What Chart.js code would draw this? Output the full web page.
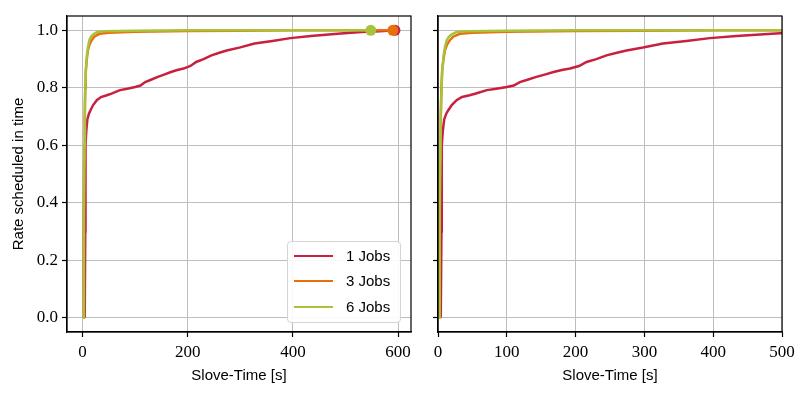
<!DOCTYPE html>
<html>
<head>
<meta charset="utf-8">
<script src="https://cdn.jsdelivr.net/npm/chart.js@4"></script>
<style>
  body { margin: 0; background: #fff; width: 806px; height: 395px; position: relative; overflow: hidden; }
  canvas { position: absolute; top: 0; }
  #left { left: 0; }
  #right { left: 420px; }
  .legend {
    position: absolute; left: 287px; top: 241px; width: 112px; height: 80px;
    border: 1px solid #d4d4d4; border-radius: 4px; background: rgba(255,255,255,0.9);
    font-family: "Liberation Sans", sans-serif; font-size: 15px; color: #000;
  }
  .legend .row { position: absolute; left: 0; height: 20px; }
  .legend .swatch { position: absolute; left: 6px; width: 39px; height: 2px; top: 9px; }
  .legend .label { position: absolute; left: 58px; top: 1px; white-space: nowrap; }
</style>
</head>
<body>
<canvas id="left" width="420" height="395"></canvas>
<canvas id="right" width="386" height="395"></canvas>
<div class="legend" id="legend"></div>
<script>
// 1 Jobs
const jobs1Time = [4, 5, 5.5, 7, 9, 12, 15, 20, 27, 35, 46, 55, 71, 85, 100, 110, 119, 130, 143, 155, 168, 180, 192, 205, 216, 230, 245, 260, 274, 298, 327, 361, 395, 434, 468, 497, 530, 565, 594];
const jobs1Rate = [0, 0.3, 0.6, 0.65, 0.69, 0.71, 0.722, 0.74, 0.757, 0.768, 0.774, 0.78, 0.792, 0.797, 0.803, 0.808, 0.82, 0.828, 0.838, 0.846, 0.855, 0.862, 0.867, 0.876, 0.89, 0.9, 0.913, 0.922, 0.93, 0.94, 0.954, 0.963, 0.973, 0.98, 0.986, 0.99, 0.994, 0.997, 1.0];
// 3 Jobs
const jobs3Time = [1, 2, 3, 4, 5, 6, 8, 10, 13, 17, 22, 32, 50, 100, 200, 300, 400, 590];
const jobs3Rate = [0, 0.3, 0.55, 0.7, 0.8, 0.86, 0.9, 0.93, 0.95, 0.965, 0.978, 0.988, 0.992, 0.995, 0.998, 0.999, 1.0, 1.0];
// 6 Jobs
const jobs6Time = [1.5, 2.5, 3.5, 4.5, 6, 8, 10, 12.6, 16, 20, 27, 40, 100, 200, 548];
const jobs6Rate = [0, 0.35, 0.6, 0.75, 0.85, 0.91, 0.94, 0.965, 0.978, 0.986, 0.994, 0.997, 0.999, 1.0, 1.0];

const seriesLabels = ['1 Jobs', '3 Jobs', '6 Jobs'];
const seriesColors = ['#c8203f', '#e8700c', '#a9c23c'];

const yTicks = [0, 0.2, 0.4, 0.6, 0.8, 1.0];
const xTicksLeft = [0, 200, 400, 600];
const xTicksRight = [0, 100, 200, 300, 400, 500];

const tickFont = { family: '"Liberation Serif", serif', size: 17 };
const titleFont = { family: '"Liberation Sans", sans-serif', size: 15 };

function points(xs, ys) {
  return xs.map((x, i) => ({ x: x, y: ys[i] }));
}

function makeDatasets(withMarkers) {
  const all = [[jobs1Time, jobs1Rate], [jobs3Time, jobs3Rate], [jobs6Time, jobs6Rate]];
  return all.map((s, k) => ({
    label: seriesLabels[k],
    data: points(s[0], s[1]),
    borderColor: seriesColors[k],
    backgroundColor: seriesColors[k],
    borderWidth: 2.5,
    tension: 0,
    order: 2 - k,
    pointRadius: ctx => (withMarkers && ctx.dataIndex === s[0].length - 1) ? 5.5 : 0,
    pointHoverRadius: 0,
    pointBorderWidth: 0
  }));
}

const frame = {
  id: 'frame',
  afterDraw(chart) {
    const a = chart.chartArea, c = chart.ctx;
    c.save();
    c.strokeStyle = '#000';
    c.lineWidth = 1.2;
    c.strokeRect(a.left, a.top, a.right - a.left, a.bottom - a.top);
    c.restore();
  }
};

function makeOptions(xMin, xMax, xTicks, showY, yWidth, padRight) {
  return {
    responsive: false,
    animation: false,
    layout: { padding: { top: 16, right: padRight, left: 0, bottom: 0 } },
    plugins: { legend: { display: false }, tooltip: { enabled: false } },
    scales: {
      x: {
        type: 'linear',
        min: xMin, max: xMax,
        afterBuildTicks: sc => { sc.ticks = xTicks.map(v => ({ value: v })); },
        afterFit: sc => { sc.height = 63; },
        grid: { color: '#bdbdbd', lineWidth: 1, tickColor: '#000', tickLength: 5, tickWidth: 1.2 },
        border: { color: '#000', width: 1.2 },
        ticks: { font: tickFont, color: '#000', padding: 5, maxRotation: 0, callback: v => String(v) },
        title: { display: true, text: 'Slove-Time [s]', font: titleFont, color: '#000', padding: { top: 2, bottom: 10 } }
      },
      y: {
        type: 'linear',
        min: -0.05, max: 1.05,
        afterBuildTicks: sc => { sc.ticks = yTicks.map(v => ({ value: v })); },
        afterFit: sc => { sc.width = yWidth; },
        grid: { color: '#bdbdbd', lineWidth: 1, tickColor: '#000', tickLength: 5, tickWidth: 1.2 },
        border: { color: '#000', width: 1.2 },
        ticks: { display: showY, font: tickFont, color: '#000', padding: 4, callback: v => v.toFixed(1) },
        title: { display: showY, text: 'Rate scheduled in time', font: titleFont, color: '#000', padding: { top: 10, bottom: 0 } }
      }
    }
  };
}

const leftChart = new Chart(document.getElementById('left'), {
  type: 'line',
  data: { datasets: makeDatasets(true) },
  options: makeOptions(-29.7, 624.5, xTicksLeft, true, 67, 9),
  plugins: [frame]
});

new Chart(document.getElementById('right'), {
  type: 'line',
  data: { datasets: makeDatasets(false) },
  options: makeOptions(0, 500, xTicksRight, false, 18, 24),
  plugins: [frame]
});

// legend built from the left chart's datasets
const legendEl = document.getElementById('legend');
leftChart.data.datasets.forEach((ds, i) => {
  const row = document.createElement('div');
  row.className = 'row';
  row.style.top = [4, 29, 55][i] + 'px';
  row.style.width = '100%';
  row.innerHTML = '<div class="swatch" style="background:' + ds.borderColor + '"></div><div class="label">' + ds.label + '</div>';
  legendEl.appendChild(row);
});
</script>
</body>
</html>
